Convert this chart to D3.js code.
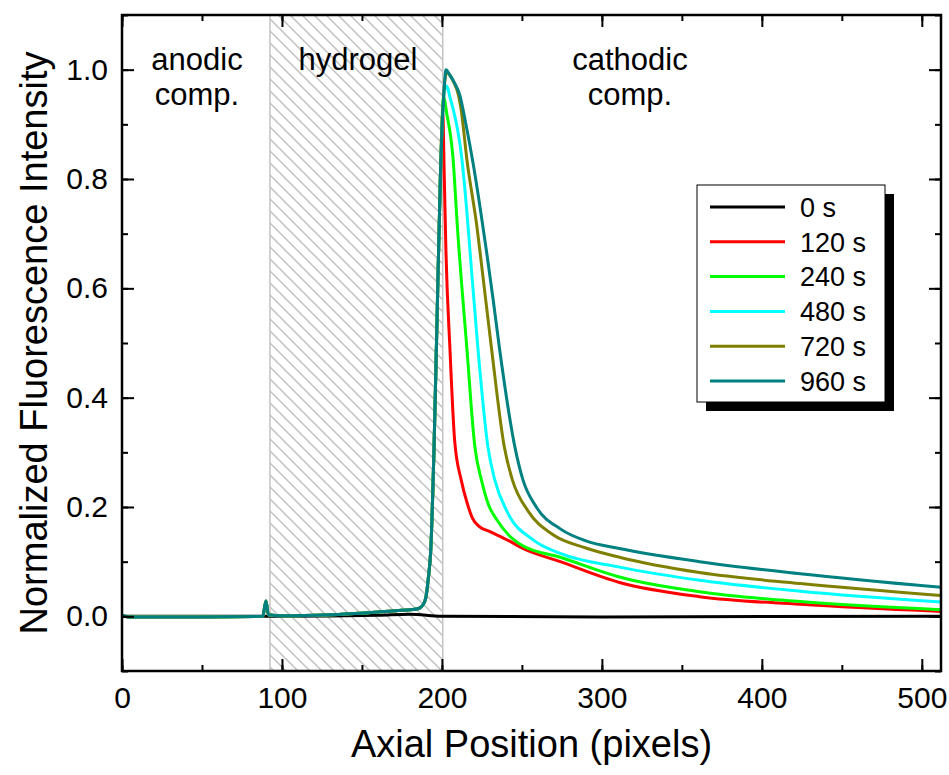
<!DOCTYPE html>
<html>
<head>
<meta charset="utf-8">
<script src="https://cdn.jsdelivr.net/npm/d3@7"></script>
<style>
  body { margin: 0; background: white; }
  text { font-family: "Liberation Sans", Arial, sans-serif; }
</style>
</head>
<body>
<div id="chart"></div>
<script>
// data: [axial position (px), normalized intensity]
let seriesNames = ["0 s", "120 s", "240 s", "480 s", "720 s", "960 s"];
let seriesColors = ["#000000", "#ff0000", "#00ff00", "#00ffff", "#808000", "#008080"];

// shared baseline + rising edge (all curves but 0 s)
let baseRise = [[0, 0.002], [4, -0.001], [50, -0.001], [88, 0.0], [90, 0.028], [91.5, 0.003], [100, 0.001],
  [130, 0.003], [160, 0.008], [175, 0.011], [185, 0.014], [188, 0.02], [190, 0.035], [191.5, 0.07],
  [193, 0.12], [195, 0.3], [197, 0.55], [199, 0.8]];

let s0 = [[0, 0.0], [100, 0.0], [160, 0.002], [180, 0.004], [200, 0.0], [300, -0.001], [512, 0.0]];
let s120 = [[200.5, 0.92], [201.5, 0.8], [202.5, 0.67], [205, 0.49], [208, 0.32], [212, 0.25],
  [216, 0.205], [219, 0.18], [223, 0.165], [230, 0.155], [242, 0.138], [250, 0.125], [274, 0.1], [311, 0.062],
  [361, 0.036], [424, 0.022], [512, 0.009]];
let s240 = [[201, 0.95], [203, 0.92], [207, 0.836], [209.5, 0.72], [215.6, 0.49], [220.6, 0.31],
  [225, 0.246], [229, 0.205], [234, 0.178], [242, 0.148], [250, 0.13], [274, 0.108], [311, 0.072],
  [361, 0.045], [424, 0.027], [512, 0.012]];
let s480 = [[201.5, 0.96], [203, 0.97], [205, 0.95], [212.5, 0.836], [215.6, 0.74], [217.5, 0.67],
  [222.5, 0.49], [228.75, 0.31], [233, 0.25], [241, 0.19], [257, 0.14], [274, 0.115], [311, 0.09],
  [361, 0.066], [424, 0.046], [512, 0.026]];
let s720 = [[201.5, 0.97], [203, 0.995], [206, 0.985], [212, 0.927], [215.6, 0.836], [222, 0.71],
  [224.5, 0.65], [231, 0.49], [239, 0.31], [244, 0.25], [254, 0.192], [269, 0.15], [290, 0.125],
  [311, 0.108], [361, 0.08], [424, 0.06], [512, 0.038]];
let s960 = [[201.5, 0.97], [202.5, 1.0], [205, 0.99], [208, 0.975], [211, 0.955], [215, 0.9],
  [219.4, 0.83], [223.75, 0.75], [228, 0.665], [232, 0.58], [236, 0.49], [245.6, 0.31], [250.6, 0.25],
  [259, 0.2], [274, 0.16], [290, 0.138], [311, 0.124], [361, 0.1], [424, 0.078], [512, 0.053]];

let seriesData = [s0, baseRise.concat(s120), baseRise.concat(s240), baseRise.concat(s480),
  baseRise.concat(s720), baseRise.concat(s960)];

let xTicks = [0, 100, 200, 300, 400, 500];
let yTicks = [0.0, 0.2, 0.4, 0.6, 0.8, 1.0];
let hydrogelRange = [92.5, 200.5];

let margin = { top: 15, left: 122, right: 8, bottom: 104 },
  W = 949, H = 775,
  width = W - margin.left - margin.right,
  height = H - margin.top - margin.bottom;

let svg = d3.select('#chart').append('svg')
  .attr('width', W).attr('height', H);

let x = d3.scaleLinear().domain([0, 512]).range([0, width]),
    y = d3.scaleLinear().domain([-0.1, 1.1]).range([height, 0]);

let defs = svg.append('defs');
let pat = defs.append('pattern').attr('id', 'hatch')
  .attr('patternUnits', 'userSpaceOnUse').attr('width', 12).attr('height', 12);
pat.append('rect').attr('width', 12).attr('height', 12).attr('fill', 'white');
pat.append('path').attr('d', 'M-6,6 L6,18 M0,0 L12,12 M6,-6 L18,6')
  .attr('stroke', '#c2c2c2').attr('stroke-width', 1.5);
defs.append('clipPath').attr('id', 'clip').append('rect')
  .attr('width', width).attr('height', height);

let g = svg.append('g').attr('transform', `translate(${margin.left},${margin.top})`);

// hydrogel region
g.append('rect')
  .attr('x', x(hydrogelRange[0])).attr('y', 0)
  .attr('width', x(hydrogelRange[1]) - x(hydrogelRange[0]))
  .attr('height', height)
  .attr('fill', 'url(#hatch)')
  .attr('stroke', '#c4c4c4').attr('stroke-width', 1.5);

// curves
let line = d3.line().x(d => x(d[0])).y(d => y(d[1])).curve(d3.curveMonotoneX);
g.append('g').attr('clip-path', 'url(#clip)')
  .selectAll('path').data(seriesData).enter().append('path')
  .attr('d', line)
  .attr('fill', 'none')
  .attr('stroke', (d, i) => seriesColors[i])
  .attr('stroke-width', 3)
  .attr('stroke-linejoin', 'round');

// axes, ticks inward on all four sides
let xMinor = d3.range(0, 513, 50), yMinor = d3.range(-0.1, 1.11, 0.1);
function addAxis(axis, transform) {
  let a = g.append('g').attr('transform', transform).call(axis);
  a.select('.domain').remove();
  a.selectAll('line').attr('stroke', 'black').attr('stroke-width', 2);
  return a;
}
addAxis(d3.axisBottom(x).tickValues(xMinor).tickSize(-6).tickFormat(''), `translate(0,${height})`);
addAxis(d3.axisTop(x).tickValues(xMinor).tickSize(-6).tickFormat(''), 'translate(0,0)');
addAxis(d3.axisLeft(y).tickValues(yMinor).tickSize(-6).tickFormat(''), 'translate(0,0)');
addAxis(d3.axisRight(y).tickValues(yMinor).tickSize(-6).tickFormat(''), `translate(${width},0)`);

addAxis(d3.axisBottom(x).tickValues(xTicks).tickSize(-12).tickPadding(16).tickFormat(d3.format('d')), `translate(0,${height})`);
addAxis(d3.axisTop(x).tickValues(xTicks).tickSize(-12).tickFormat(''), 'translate(0,0)');
addAxis(d3.axisLeft(y).tickValues(yTicks).tickSize(-12).tickPadding(14).tickFormat(d3.format('.1f')), 'translate(0,0)');
addAxis(d3.axisRight(y).tickValues(yTicks).tickSize(-12).tickFormat(''), `translate(${width},0)`);
svg.selectAll('.tick text').attr('font-size', 30).attr('font-family', '"Liberation Sans", Arial, sans-serif').attr('fill', 'black');

// frame
g.append('rect').attr('width', width).attr('height', height)
  .attr('fill', 'none').attr('stroke', 'black').attr('stroke-width', 2.5);

// region labels
let labels = [
  { t: ["anodic", "comp."], x: 197 },
  { t: ["hydrogel"], x: 358 },
  { t: ["cathodic", "comp."], x: 630 }
];
labels.forEach(l => {
  l.t.forEach((s, i) => {
    svg.append('text').attr('x', l.x).attr('y', 70 + i * 35)
      .attr('text-anchor', 'middle').attr('font-size', 31).text(s);
  });
});

// legend
let lg = svg.append('g').attr('transform', 'translate(697,185)');
lg.append('rect').attr('x', 9).attr('y', 9).attr('width', 188).attr('height', 217).attr('fill', 'black');
lg.append('rect').attr('width', 188).attr('height', 217).attr('fill', 'white')
  .attr('stroke', 'black').attr('stroke-width', 1);
seriesNames.forEach((n, i) => {
  let yy = 22 + i * 34.8;
  lg.append('line').attr('x1', 13).attr('x2', 88).attr('y1', yy).attr('y2', yy)
    .attr('stroke', seriesColors[i]).attr('stroke-width', 3);
  lg.append('text').attr('x', 103).attr('y', yy).attr('dy', '0.36em')
    .attr('font-size', 27).text(n);
});

// axis titles
svg.append('text').attr('x', margin.left + width / 2).attr('y', 757)
  .attr('text-anchor', 'middle').attr('font-size', 38).text('Axial Position (pixels)');
svg.append('text').attr('transform', `translate(47,${margin.top + y(0.5)}) rotate(-90)`)
  .attr('text-anchor', 'middle').attr('font-size', 38).text('Normalized Fluorescence Intensity');
</script>
</body>
</html>
